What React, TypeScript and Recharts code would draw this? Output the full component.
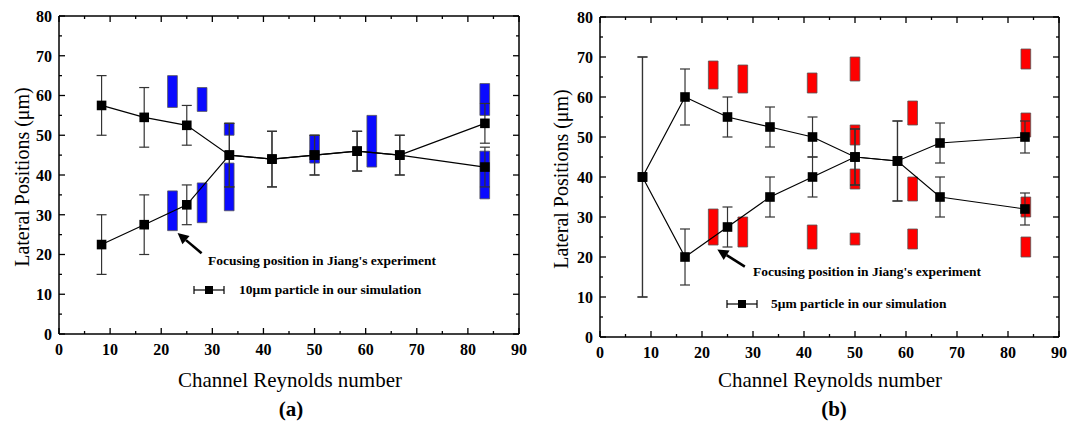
import React from "react";
import { ComposedChart, Scatter, ErrorBar, XAxis, YAxis, ReferenceArea, ReferenceLine } from "recharts";

// channel Reynolds numbers used in the simulations
const reynolds = [8.33, 16.67, 25, 33.33, 41.67, 50, 58.33, 66.67, 83.33];

// (a) 10um particle - two branches of lateral position + error
const tenBranchA = [57.5, 54.5, 52.5, 45, 44, 45, 46, 45, 42];
const tenBranchB = [22.5, 27.5, 32.5, 45, 44, 45, 46, 45, 53];
const tenErr = [7.5, 7.5, 5, 8, 7, 5, 5, 5, 5];

// (b) 5um particle
const fiveBranchA = [40, 60, 55, 52.5, 50, 45, 44, 35, 32];
const fiveBranchB = [40, 20, 27.5, 35, 40, 45, 44, 48.5, 50];
const fiveErr = [30, 7, 5, 5, 5, 7, 10, 5, 4];

// Jiang's experiment focusing bands (x, low, high)
const blueX = [22.2, 22.2, 28, 28, 33.3, 33.3, 50, 61.2, 83.3, 83.3];
const blueLow = [57, 26, 56, 28, 50, 31, 43, 42, 55, 34];
const blueHigh = [65, 36, 62, 38, 53, 43, 50, 55, 63, 46];

const redX = [22.2, 22.2, 28, 28, 41.6, 41.6, 50, 50, 50, 50, 61.3, 61.3, 61.3, 83.5, 83.5, 83.5, 83.5];
const redLow = [62, 23, 61, 22.5, 61, 22, 64, 48, 37, 23, 53, 34, 22, 67, 50, 30, 20];
const redHigh = [69, 32, 68, 30, 66, 28, 70, 53, 42, 26, 59, 40, 27, 72, 56, 35, 25];

const xTicks = [0, 5, 10, 15, 20, 25, 30, 35, 40, 45, 50, 55, 60, 65, 70, 75, 80, 85, 90];
const yTicks = [0, 5, 10, 15, 20, 25, 30, 35, 40, 45, 50, 55, 60, 65, 70, 75, 80];

const SERIF = '"Liberation Serif", "Times New Roman", serif';
const BAND_HALF = 0.95;

const toPoints = (ys: number[], errs: number[]) => reynolds.map((x, i) => ({ x, y: ys[i], err: errs[i] }));

const FrameTick = (props: any) => {
  const { x, y, payload, side } = props;
  const v = payload.value;
  const major = v % 10 === 0;
  const len = major ? 6 : 3;
  let ln = null;
  if (side === "bottom") ln = <line x1={x} y1={y} x2={x} y2={y - len} />;
  if (side === "top") ln = <line x1={x} y1={y} x2={x} y2={y + len} />;
  if (side === "left") ln = <line x1={x} y1={y} x2={x + len} y2={y} />;
  if (side === "right") ln = <line x1={x} y1={y} x2={x - len} y2={y} />;
  return (
    <g stroke="#000" strokeWidth={1.3}>
      {ln}
      {major && side === "bottom" && (
        <text x={x} y={y + 15} dy="0.36em" textAnchor="middle" stroke="none" fill="#000"
          style={{ fontFamily: SERIF, fontWeight: 700, fontSize: 16 }}>{v}</text>
      )}
      {major && side === "left" && (
        <text x={x - 7} y={y} dy="0.36em" textAnchor="end" stroke="none" fill="#000"
          style={{ fontFamily: SERIF, fontWeight: 700, fontSize: 16 }}>{v}</text>
      )}
    </g>
  );
};

const ArrowShape = (props: any) => {
  const { x1, y1, x2, y2 } = props;
  const dx = x2 - x1;
  const dy = y2 - y1;
  const L = Math.hypot(dx, dy) || 1;
  const ux = dx / L;
  const uy = dy / L;
  const hl = 11;
  const hw = 5.5;
  const bx = x2 - ux * hl;
  const by = y2 - uy * hl;
  return (
    <g>
      <line x1={x1} y1={y1} x2={bx} y2={by} stroke="#000" strokeWidth={2.6} />
      <polygon points={`${x2},${y2} ${bx - uy * hw},${by + ux * hw} ${bx + uy * hw},${by - ux * hw}`} fill="#000" />
    </g>
  );
};

const square = (p: any) => <rect x={p.cx - 4.8} y={p.cy - 4.8} width={9.6} height={9.6} fill="#000" />;

const axisLine = { stroke: "#000", strokeWidth: 1.5 };

interface PanelProps {
  branchA: number[];
  branchB: number[];
  err: number[];
  bandX: number[];
  bandLow: number[];
  bandHigh: number[];
  bandColor: string;
  arrow: { x: number; y: number }[];
  width: number;
  margin: { top: number; right: number; bottom: number; left: number };
}

// each axis is 1px thick, so the plot box = margin + 1 on every side
const Panel = ({ branchA, branchB, err, bandX, bandLow, bandHigh, bandColor, arrow, width, margin }: PanelProps) => (
  <ComposedChart width={width} height={424} margin={margin}>
    <XAxis type="number" dataKey="x" domain={[0, 90]} ticks={xTicks} interval={0} height={1}
      tickSize={0} tickMargin={0} tickLine={false} axisLine={axisLine} tick={<FrameTick side="bottom" />} allowDataOverflow />
    <XAxis xAxisId="top" orientation="top" type="number" dataKey="x" domain={[0, 90]} ticks={xTicks} interval={0} height={1}
      tickSize={0} tickMargin={0} tickLine={false} axisLine={axisLine} tick={<FrameTick side="top" />} allowDataOverflow />
    <YAxis type="number" dataKey="y" domain={[0, 80]} ticks={yTicks} interval={0} width={1}
      tickSize={0} tickMargin={0} tickLine={false} axisLine={axisLine} tick={<FrameTick side="left" />} allowDataOverflow />
    <YAxis yAxisId="right" orientation="right" type="number" dataKey="y" domain={[0, 80]} ticks={yTicks} interval={0} width={1}
      tickSize={0} tickMargin={0} tickLine={false} axisLine={axisLine} tick={<FrameTick side="right" />} allowDataOverflow />
    {bandX.map((x, i) => (
      <ReferenceArea key={`band-${i}`} x1={x - BAND_HALF} x2={x + BAND_HALF} y1={bandLow[i]} y2={bandHigh[i]}
        fill={bandColor} fillOpacity={1} stroke="#555" strokeWidth={0.8} ifOverflow="visible" />
    ))}
    <ReferenceLine segment={arrow} ifOverflow="visible" shape={ArrowShape} />
    <Scatter data={toPoints(branchA, err)} shape={square} line={{ stroke: "#000", strokeWidth: 1.2 }} lineType="joint" isAnimationActive={false}>
      <ErrorBar dataKey="err" direction="y" width={5} stroke="#333" strokeWidth={1.2} />
    </Scatter>
    <Scatter data={toPoints(branchB, err)} shape={square} line={{ stroke: "#000", strokeWidth: 1.2 }} lineType="joint" isAnimationActive={false}>
      <ErrorBar dataKey="err" direction="y" width={5} stroke="#333" strokeWidth={1.2} />
    </Scatter>
  </ComposedChart>
);

const LegendMark = () => (
  <svg width={32} height={10} style={{ display: "block" }}>
    <line x1={1} y1={5} x2={31} y2={5} stroke="#000" strokeWidth={1.2} />
    <line x1={1} y1={1} x2={1} y2={9} stroke="#000" strokeWidth={1.2} />
    <line x1={31} y1={1} x2={31} y2={9} stroke="#000" strokeWidth={1.2} />
    <rect x={12} y={1} width={8} height={8} fill="#000" />
  </svg>
);

const txt = (left: number, cy: number, content: string, style: React.CSSProperties) => (
  <div style={{ position: "absolute", left, top: cy, transform: "translateY(-50%)", whiteSpace: "nowrap", lineHeight: 1, ...style }}>
    {content}
  </div>
);

const ctxt = (cx: number, cy: number, content: string, style: React.CSSProperties, rotate = false) => (
  <div style={{
    position: "absolute", left: cx, top: cy, whiteSpace: "nowrap", lineHeight: 1,
    transform: `translate(-50%, -50%)${rotate ? " rotate(-90deg)" : ""}`, ...style,
  }}>
    {content}
  </div>
);

const boldNote: React.CSSProperties = { fontWeight: 700, fontSize: 13.5 };
const axisTitle: React.CSSProperties = { fontSize: 21 };
const panelTag: React.CSSProperties = { fontWeight: 700, fontSize: 21 };

export default function App() {
  return (
    <div style={{ position: "absolute", left: 0, top: 0, width: 1079, height: 424, background: "#fff", fontFamily: SERIF, color: "#000", overflow: "hidden" }}>
      <div style={{ position: "absolute", left: 0, top: 0 }}>
        <Panel branchA={tenBranchA} branchB={tenBranchB} err={tenErr} bandX={blueX} bandLow={blueLow} bandHigh={blueHigh}
          bandColor="#0a0aff" arrow={[{ x: 27.9, y: 20.3 }, { x: 23.2, y: 25.4 }]} width={540}
          margin={{ top: 15, right: 20, bottom: 89, left: 58 }} />
      </div>
      <div style={{ position: "absolute", left: 540, top: 0 }}>
        <Panel branchA={fiveBranchA} branchB={fiveBranchB} err={fiveErr} bandX={redX} bandLow={redLow} bandHigh={redHigh}
          bandColor="#ff0000" arrow={[{ x: 28.4, y: 17.6 }, { x: 23.0, y: 21.9 }]} width={539}
          margin={{ top: 16, right: 19, bottom: 86, left: 59 }} />
      </div>

      {ctxt(22, 177, "Lateral Positions (\u03bcm)", { fontSize: 20 }, true)}
      {ctxt(290, 380, "Channel Reynolds number", axisTitle)}
      {ctxt(291, 409, "(a)", panelTag)}
      {txt(208, 261, "Focusing position in Jiang's experiment", boldNote)}
      <div style={{ position: "absolute", left: 193, top: 285 }}><LegendMark /></div>
      {txt(239, 290, "10\u03bcm particle in our simulation", boldNote)}

      {ctxt(561, 179, "Lateral Positions (\u03bcm)", { fontSize: 20 }, true)}
      {ctxt(830, 380, "Channel Reynolds number", axisTitle)}
      {ctxt(834, 409, "(b)", panelTag)}
      {txt(753, 272, "Focusing position in Jiang's experiment", boldNote)}
      <div style={{ position: "absolute", left: 726, top: 299 }}><LegendMark /></div>
      {txt(771, 304, "5\u03bcm particle in our simulation", boldNote)}
    </div>
  );
}
